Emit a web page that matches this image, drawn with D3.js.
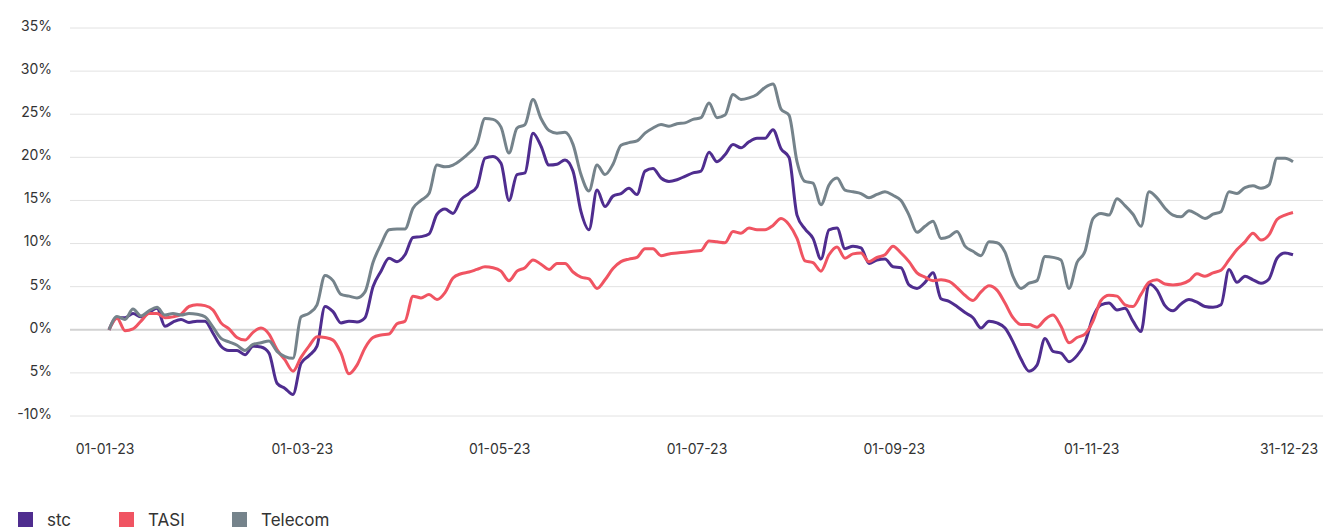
<!DOCTYPE html>
<html>
<head>
<meta charset="utf-8">
<script src="https://cdnjs.cloudflare.com/ajax/libs/d3/7.8.5/d3.min.js"></script>
<style>
  body { margin: 0; background: #fff; }
  #chart { width: 1323px; height: 532px; overflow: hidden; }
  text { font-family: Inter, "Noto Sans", sans-serif; fill: #333; }
</style>
</head>
<body>
<div id="chart"></div>
<script>
// Data (cumulative return in %, sampled through 2023)
var tickLabels = ["01-01-23", "01-03-23", "01-05-23", "01-07-23", "01-09-23", "01-11-23", "31-12-23"];
var yTicks = [-10, -5, 0, 5, 10, 15, 20, 25, 30, 35];
var seriesNames = ["stc", "TASI", "Telecom"];

var stc = [0, 1.4, 1.4, 1.9, 1.5, 2.0, 2.5, 0.4, 0.9, 1.2, 0.85, 1.0, 1.0, -0.4, -1.9, -2.4, -2.4, -2.9, -1.9, -2.0,
  -2.7, -6.2, -6.8, -7.5, -3.9, -3.0, -1.9, 2.7, 2.1, 0.8, 1.0, 0.9, 1.4, 5.0, 6.8, 8.3, 7.9, 8.7, 10.7, 10.8,
  11.1, 13.4, 14.0, 13.5, 15.1, 15.8, 16.6, 19.9, 20.1, 19.3, 15.0, 18.0, 18.2, 22.8, 21.3, 19.1, 19.2, 19.7, 18.4, 13.7,
  11.6, 16.2, 14.3, 15.5, 15.8, 16.4, 15.7, 18.4, 18.7, 17.6, 17.2, 17.4, 17.8, 18.2, 18.4, 20.6, 19.5, 20.3, 21.5, 21.1,
  21.8, 22.2, 22.2, 23.2, 21.0, 20.0, 13.3, 11.7, 10.6, 8.2, 11.6, 11.8, 9.4, 9.7, 9.5, 7.7, 8.1, 8.2, 7.3, 7.2,
  5.2, 4.8, 5.5, 6.6, 3.6, 3.3, 2.7, 2.0, 1.4, 0.2, 1.0, 0.8, 0.2, -1.4, -3.4, -4.8, -4.1, -1.0, -2.5, -2.7,
  -3.7, -3.0, -1.5, 1.5, 2.9, 3.1, 2.3, 2.5, 1.0, -0.2, 5.3, 4.6, 2.8, 2.2, 3.0, 3.5, 3.2, 2.7, 2.6, 2.9,
  7.0, 5.5, 6.2, 5.8, 5.4, 5.9, 8.3, 8.9, 8.7];

var tasi = [0, 1.35, -0.1, 0.1, 1.0, 1.9, 1.9, 1.4, 1.5, 1.8, 2.7, 2.9, 2.8, 2.3, 0.8, 0.1, -0.9, -1.2, -0.3, 0.2,
  -0.5, -2.3, -3.5, -4.8, -3.2, -1.9, -0.8, -0.9, -1.2, -2.7, -5.1, -4.1, -2.1, -0.9, -0.6, -0.5, 0.7, 1.0, 3.9, 3.7,
  4.1, 3.5, 4.3, 6.0, 6.5, 6.7, 7.0, 7.3, 7.2, 6.8, 5.7, 6.8, 7.2, 8.1, 7.6, 7.0, 7.7, 7.7, 6.7, 6.1,
  5.9, 4.8, 5.8, 7.1, 7.9, 8.2, 8.4, 9.4, 9.4, 8.6, 8.8, 8.9, 9.0, 9.1, 9.2, 10.3, 10.2, 10.1, 11.4, 11.2,
  11.8, 11.6, 11.6, 12.1, 12.9, 12.2, 10.6, 8.0, 7.8, 6.8, 8.7, 9.6, 8.3, 8.8, 8.9, 7.9, 8.4, 8.7, 9.7, 8.9,
  7.9, 6.6, 6.1, 5.7, 5.8, 5.6, 4.9, 4.0, 3.4, 4.4, 5.1, 4.6, 3.1, 1.4, 0.6, 0.6, 0.3, 1.2, 1.7, 0.4,
  -1.5, -0.9, -0.5, 1.0, 3.4, 4.0, 3.9, 2.9, 2.7, 4.1, 5.5, 5.8, 5.3, 5.2, 5.3, 5.7, 6.5, 6.2, 6.6, 6.9,
  8.1, 9.3, 10.2, 11.2, 10.4, 11.0, 12.8, 13.3, 13.6];

var telecom = [0, 1.55, 1.2, 2.4, 1.6, 2.2, 2.6, 1.7, 1.9, 1.7, 1.9, 1.8, 1.5, 0.3, -1.0, -1.4, -1.8, -2.4, -1.7, -1.5,
  -1.3, -2.5, -3.1, -3.3, 1.5, 1.9, 2.9, 6.3, 5.7, 4.1, 3.9, 3.7, 4.4, 7.8, 9.9, 11.6, 11.7, 11.7, 14.1, 15.0,
  15.8, 19.1, 18.9, 19.1, 19.7, 20.5, 21.6, 24.5, 24.4, 23.5, 20.5, 23.4, 23.8, 26.7, 24.5, 23.1, 22.8, 22.9, 21.5, 18.0,
  16.1, 19.1, 18.0, 19.2, 21.4, 21.7, 21.9, 22.8, 23.4, 23.8, 23.6, 23.9, 24.0, 24.4, 24.6, 26.3, 24.6, 24.9, 27.3, 26.7,
  26.9, 27.3, 28.1, 28.5, 25.6, 24.9, 19.5, 17.2, 17.0, 14.5, 16.8, 17.6, 16.2, 16.0, 15.8, 15.3, 15.7, 16.0, 15.6, 15.0,
  13.3, 11.3, 12.0, 12.6, 10.6, 10.8, 11.4, 9.7, 9.1, 8.6, 10.2, 10.1, 9.0, 6.2, 4.8, 5.4, 5.7, 8.5, 8.4, 8.1,
  4.8, 7.8, 9.1, 12.9, 13.5, 13.3, 15.2, 14.4, 13.4, 12.0, 16.0, 15.3, 14.1, 13.3, 13.1, 13.8, 13.4, 12.9, 13.4, 13.7,
  16.0, 15.8, 16.5, 16.7, 16.4, 16.8, 19.9, 19.9, 19.5];

var colors = ["#4f2d8f", "#f05462", "#75838b"];

function makeChart() {
  var svgWidth = 1323;
  var svgHeight = 532;

  var svg = d3.select("#chart")
    .append("svg")
    .attr("width", svgWidth)
    .attr("height", svgHeight);

  // Scales
  var n = stc.length;
  var xScale = d3.scaleLinear()
    .domain([0, n - 1])
    .range([109, 1293]);

  var yScale = d3.scaleLinear()
    .domain([-10, 35])
    .range([416, 28]);

  // Grid lines + y labels
  var grid = svg.append("g");
  grid.selectAll("line")
    .data(yTicks)
    .enter()
    .append("line")
    .attr("x1", 70)
    .attr("x2", svgWidth)
    .attr("y1", d => yScale(d))
    .attr("y2", d => yScale(d))
    .attr("stroke", d => d === 0 ? "#d2d2d2" : "#e2e2e2")
    .attr("stroke-width", d => d === 0 ? 2 : 1);

  // the source drops the minus sign on -5%
  grid.selectAll("text")
    .data(yTicks)
    .enter()
    .append("text")
    .attr("x", 52)
    .attr("y", d => yScale(d) - 2)
    .attr("dy", "0.35em")
    .attr("text-anchor", "end")
    .style("font-size", "14px")
    .text(d => (d === -5 ? "5" : d) + "%");

  // x labels, evenly spread over the period
  var step = (n - 1) / (tickLabels.length - 1);
  svg.append("g").selectAll("text")
    .data(tickLabels)
    .enter()
    .append("text")
    .attr("x", (d, i) => xScale(i * step) - 4)
    .attr("y", 449)
    .attr("dy", "0.35em")
    .attr("text-anchor", "middle")
    .style("font-size", "14px")
    .text(d => d);

  // Lines
  var line = d3.line()
    .x((d, i) => xScale(i))
    .y(d => yScale(d))
    .curve(d3.curveMonotoneX);

  [stc, tasi, telecom].forEach(function(values, k) {
    svg.append("path")
      .datum(values)
      .attr("fill", "none")
      .attr("stroke", colors[k])
      .attr("stroke-width", 3)
      .attr("stroke-linejoin", "round")
      .attr("d", line);
  });

  // Legend
  var legendX = [18, 119, 232];
  var legend = svg.append("g").selectAll("g")
    .data(seriesNames)
    .enter()
    .append("g")
    .attr("transform", (d, i) => `translate(${legendX[i]}, 512)`);

  legend.append("rect")
    .attr("width", 15)
    .attr("height", 15)
    .attr("fill", (d, i) => colors[i]);

  legend.append("text")
    .attr("x", 29)
    .attr("y", 14)
    .style("font-size", "17px")
    .text(d => d);
}

makeChart();
</script>
</body>
</html>
